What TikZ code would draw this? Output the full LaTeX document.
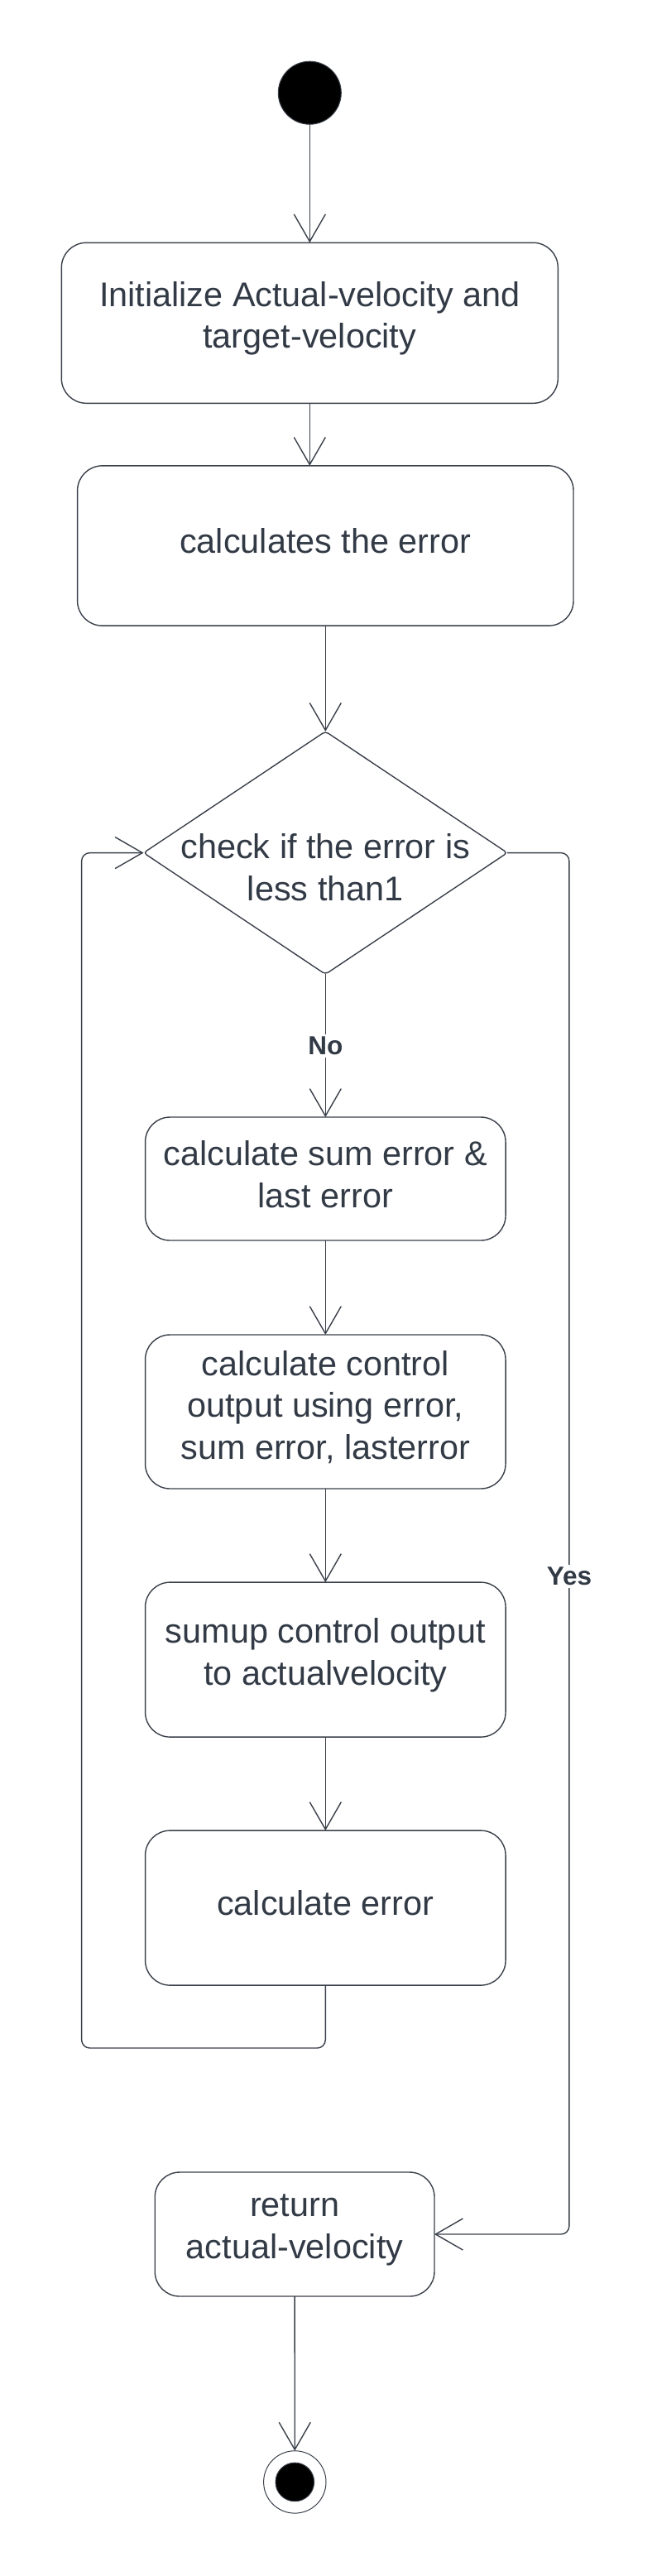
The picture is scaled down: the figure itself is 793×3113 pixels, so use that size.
\documentclass[tikz,border=0pt]{standalone}
\usepackage{fontspec}
\setmainfont{Liberation Sans}
\usetikzlibrary{arrows.meta,shapes.geometric}
\definecolor{ln}{RGB}{58,64,74}
\definecolor{tx}{RGB}{50,58,70}
\begin{document}
\begin{tikzpicture}[x=1pt,y=-1pt,
  every node/.style={text=tx, font=\fontsize{41.4}{50.5}\selectfont},
  act/.style={draw=ln, line width=1.4pt, rounded corners=30pt, inner sep=0pt, outer sep=0pt, fill=white},
  txt/.style={align=center, inner sep=0pt},
  flow/.style={draw=ln, line width=1.4pt, -{Straight Barb[length=33pt,width=38pt]}},
  lbl/.style={font=\fontsize{31.5}{36}\selectfont\bfseries, fill=white, inner sep=3pt, text=tx}
]
\useasboundingbox (0,0) rectangle (793,3113);
\node[circle, fill=black, draw=ln, line width=1pt, minimum size=76pt, inner sep=0pt, outer sep=0pt] (start) at (374.3,112.2) {};
\node[act, minimum width=600pt, minimum height=194pt] (b1) at (374.3,390.3) {};
\node[txt] (b1t) at ([yshift=5.5pt]b1.center) {Initialize Actual-velocity and\\target-velocity};
\node[act, minimum width=599.4pt, minimum height=193.3pt] (b2) at (393.3,659.5) {};
\node[txt] (b2t) at ([yshift=5.5pt]b2.center) {calculates the error};
\node[diamond, draw=ln, line width=1.4pt, minimum width=439.5pt, minimum height=293.4pt, inner sep=0pt, outer sep=0pt, rounded corners=4pt] (dec) at (393.3,1030.6) {};
\node[txt] (dect) at (393.3,1048) {check if the error is\\less than1};
\node[act, minimum width=435.5pt, minimum height=149pt] (b3) at (393.3,1424.5) {};
\node[txt] (b3t) at ([yshift=5.5pt]b3.center) {calculate sum error \&\\last error};
\node[act, minimum width=435.5pt, minimum height=186pt] (b4) at (393.3,1706) {};
\node[txt] (b4t) at ([yshift=5.5pt]b4.center) {calculate control\\output using error,\\sum error, lasterror};
\node[act, minimum width=435.5pt, minimum height=187pt] (b5) at (393.3,2005.6) {};
\node[txt] (b5t) at ([yshift=5.5pt]b5.center) {sumup control output\\to actualvelocity};
\node[act, minimum width=435.5pt, minimum height=187pt] (b6) at (393.3,2305.6) {};
\node[txt] (b6t) at ([yshift=5.5pt]b6.center) {calculate error};
\node[act, minimum width=337.8pt, minimum height=150pt] (ret) at (356.1,2700) {};
\node[txt] (rett) at ([yshift=5pt]ret.center) {return\\actual-velocity};
\node[circle, draw=ln, line width=1pt, minimum size=75.4pt, inner sep=0pt, outer sep=0pt, fill=white] (endo) at (356.3,2999.4) {};
\node[circle, draw=ln, line width=1pt, fill=black, minimum size=46.6pt, inner sep=0pt] (endi) at (endo) {};
\coordinate (lc) at (98.6,2475);
\coordinate (rc) at (687.9,1904.6);
\draw[flow] (start) -- (b1);
\draw[flow] (b1.south) -- (b1.south |- b2.north);
\draw[flow] (b2) -- (dec);
\draw[flow] (dec.south) -- node[lbl] (no) {No} (b3.north);
\draw[flow] (b3) -- (b4);
\draw[flow] (b4) -- (b5);
\draw[flow] (b5) -- (b6);
\draw[flow, rounded corners=10pt] (b6.south) |- (lc) |- (dec.west);
\draw[flow, rounded corners=10pt] (dec.east) -| (rc) |- (ret.east);
\node[lbl] (yes) at (rc) {Yes};
\draw[flow] (ret) -- (endo);
\end{tikzpicture}
\end{document}
